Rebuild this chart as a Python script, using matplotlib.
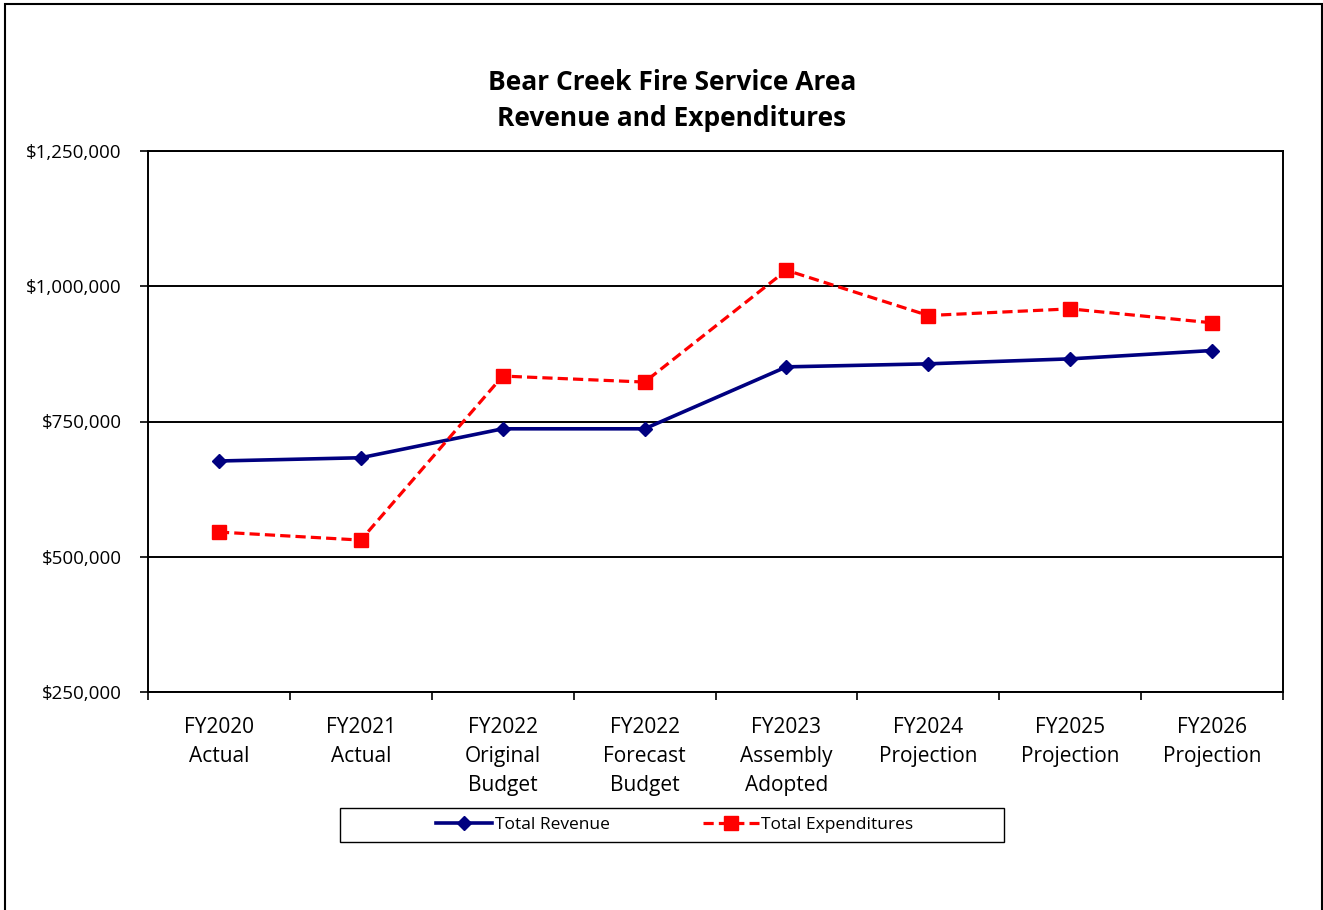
import matplotlib
matplotlib.use("Agg")
import matplotlib.pyplot as plt
from matplotlib.ticker import FuncFormatter, FixedLocator, NullFormatter
from matplotlib.patches import Rectangle

categories = ["FY2020\nActual", "FY2021\nActual", "FY2022\nOriginal\nBudget",
              "FY2022\nForecast\nBudget", "FY2023\nAssembly\nAdopted",
              "FY2024\nProjection", "FY2025\nProjection", "FY2026\nProjection"]
revenue = [677000, 683000, 736500, 736500, 851000, 856600, 865800, 881200]
expenditures = [545600, 530800, 834000, 822900, 1029600, 945900, 958200, 932400]
yticks = [250000, 500000, 750000, 1000000, 1250000]

plt.rcParams['font.family'] = ['Open Sans', 'DejaVu Sans']

W, H = 1323, 910
fig = plt.figure(figsize=(W / 100, H / 100), dpi=100)
ax = fig.add_axes([148 / W, 1 - 692 / H, (1283 - 148) / W, (692 - 151) / H])

x = list(range(len(categories)))
ax.plot(x, revenue, color="#000080", lw=2.6, marker="D", markersize=7.5,
        label="Total Revenue", zorder=3)
ax.plot(x, expenditures, color="#FF0000", lw=2.3, marker="s", markersize=10.5,
        dashes=(3.2, 1.6), label="Total Expenditures", zorder=4)

ax.set_xlim(-0.5, len(categories) - 0.5)
ax.set_ylim(250000, 1250000)
ax.set_yticks(yticks)
ax.yaxis.set_major_formatter(FuncFormatter(lambda v, p: "${:,.0f}".format(v)))
ax.grid(axis="y", color="black", lw=1.4)
ax.set_axisbelow(True)

ax.set_xticks(x)
ax.set_xticklabels(categories, fontsize=15, linespacing=1.5)
ax.tick_params(axis="x", which="major", length=0, pad=18)
ax.xaxis.set_minor_locator(FixedLocator([i - 0.5 for i in range(len(categories) + 1)]))
ax.xaxis.set_minor_formatter(NullFormatter())
ax.tick_params(axis="x", which="minor", length=6, width=1.2, direction="out")
ax.tick_params(axis="y", length=6, width=1.2, labelsize=13.5, pad=13)
for s in ax.spines.values():
    s.set_linewidth(1.4)
    s.set_color("black")

fig.text(672 / W, 1 - 100.5 / H, "Bear Creek Fire Service Area\nRevenue and Expenditures",
         ha="center", va="center", fontsize=19, fontweight="bold", linespacing=1.45)

leg = fig.legend(loc="center", bbox_to_anchor=(675 / W, 1 - 825 / H), ncol=2,
                 fontsize=12.5, frameon=False,
                 handlelength=3.2, handletextpad=0.15, columnspacing=5.4,
                 borderpad=0.3, borderaxespad=0)

fig.patches.append(Rectangle((340 / W, 1 - 842 / H), (1004 - 340) / W, 34 / H,
                             transform=fig.transFigure, fill=False,
                             edgecolor="black", lw=1.0))

fig.patches.append(Rectangle((4.5 / W, -0.1), (1322 - 4.5) / W, 1.1 - 4.5 / H,
                             transform=fig.transFigure, fill=False,
                             edgecolor="black", lw=1.5))

fig.savefig("out.png", dpi=100)
